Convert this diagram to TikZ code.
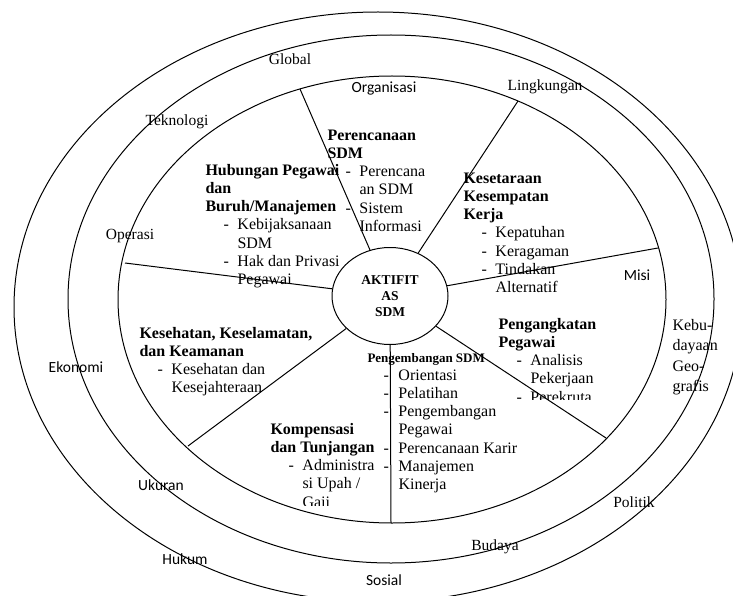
\documentclass[tikz,border=0pt]{standalone}
\usepackage{fontspec}
\setmainfont{Liberation Serif}
\newfontfamily\labfont{Carlito}
\usetikzlibrary{shapes.geometric}

\newcommand{\li}[1]{\hspace*{18pt}\makebox[14pt][l]{-}#1}
\newcommand{\lc}[1]{\hspace*{32pt}#1}

\tikzset{
  box/.style={anchor=base west, align=left, inner sep=0pt, font=\fontsize{16}{18.3}\selectfont},
  lab/.style={inner sep=0pt, font=\fontsize{15.5}{18}\selectfont},
  slab/.style={inner sep=0pt, font=\labfont\fontsize{15.5}{18}\selectfont},
}

\begin{document}
\begin{tikzpicture}[x=1pt, y=-1pt, line width=1pt]
\useasboundingbox (0,0) rectangle (733,596);

\draw (378,307) ellipse [x radius=364, y radius=295];
\draw (391,299) ellipse [x radius=323, y radius=264];
\draw (392,299.5) ellipse [x radius=274, y radius=223.5];

\node[draw, ellipse, minimum width=116pt, minimum height=97pt, inner sep=0pt, align=center,
  font=\bfseries\fontsize{13.5}{16}\selectfont] (hub) at (390,296) {AKTIFIT\\AS\\SDM};

\coordinate (w1) at (300,89);
\coordinate (w2) at (518,101);
\coordinate (w3) at (658,248);
\coordinate (w4) at (606,438);
\coordinate (w5) at (391,523);
\coordinate (w6) at (188,446);
\coordinate (w7) at (125,263);

\foreach \i in {1,...,7}
	\draw (w\i) -- (hub);

\node[box] (plan) at (327,231.5) {\textbf{Perencanaan}\\\textbf{SDM}\\\li{Perencana}\\\lc{an SDM}\\\li{Sistem}\\\lc{Informasi}};
\node[box] (rel) at (205,284.8) {\textbf{Hubungan Pegawai}\\\textbf{dan}\\\textbf{Buruh/Manajemen}\\\li{Kebijaksanaan}\\\lc{SDM}\\\li{Hak dan Privasi}\\\lc{Pegawai}};
\node[box] (equ) at (463,292.8) {\textbf{Kesetaraan}\\\textbf{Kesempatan}\\\textbf{Kerja}\\\li{Kepatuhan}\\\li{Keragaman}\\\li{Tindakan}\\\lc{Alternatif}};
\node[box] (safe) at (139,392.9) {\textbf{Kesehatan, Keselamatan,}\\\textbf{dan Keamanan}\\\li{Kesehatan dan}\\\lc{Kesejahteraan}};

\begin{scope}
\clip (490,300) rectangle (600,399);
\node[box] (stf) at (498,402.2) {\textbf{Pengangkatan}\\\textbf{Pegawai}\\\li{Analisis}\\\lc{Pekerjaan}\\\li{Perekruta}};
\end{scope}

\begin{scope}
\clip (260,400) rectangle (380,505);
\node[box] (comp) at (270,507.2) {\textbf{Kompensasi}\\\textbf{dan Tunjangan}\\\li{Administra}\\\lc{si Upah /}\\\lc{Gaji}};
\end{scope}

\node[box, font=\bfseries\fontsize{13}{15}\selectfont] (devh) at (367,362) {Pengembangan SDM};
\node[box] (devl) at (383,489.8) {\makebox[15pt][l]{-}Orientasi\\\makebox[15pt][l]{-}Pelatihan\\\makebox[15pt][l]{-}Pengembangan\\\hspace*{15pt}Pegawai\\\makebox[15pt][l]{-}Perencanaan Karir\\\makebox[15pt][l]{-}Manajemen\\\hspace*{15pt}Kinerja};

\node[lab] (glob) at (290,59) {Global};
\node[slab] (org) at (384,89) {Organisasi};
\node[lab] (env) at (545,87) {Lingkungan};
\node[lab] (tech) at (177,122) {Teknologi};
\node[lab] (ops) at (130,236) {Operasi};
\node[slab] (miss) at (637,275) {Misi};
\node[slab] (eco) at (76,367) {Ekonomi};
\node[lab, anchor=base west, align=left, font=\fontsize{16}{20.5}\selectfont] (cult) at (672,391.5) {Kebu-\\dayaan\\Geo-\\grafis};
\node[slab] (size) at (161,485) {Ukuran};
\node[lab] (pol) at (634,502) {Politik};
\node[slab] (law) at (185,559) {Hukum};
\node[lab] (bud) at (495,547) {Budaya};
\node[slab] (soc) at (384,580) {Sosial};
\end{tikzpicture}
\end{document}
